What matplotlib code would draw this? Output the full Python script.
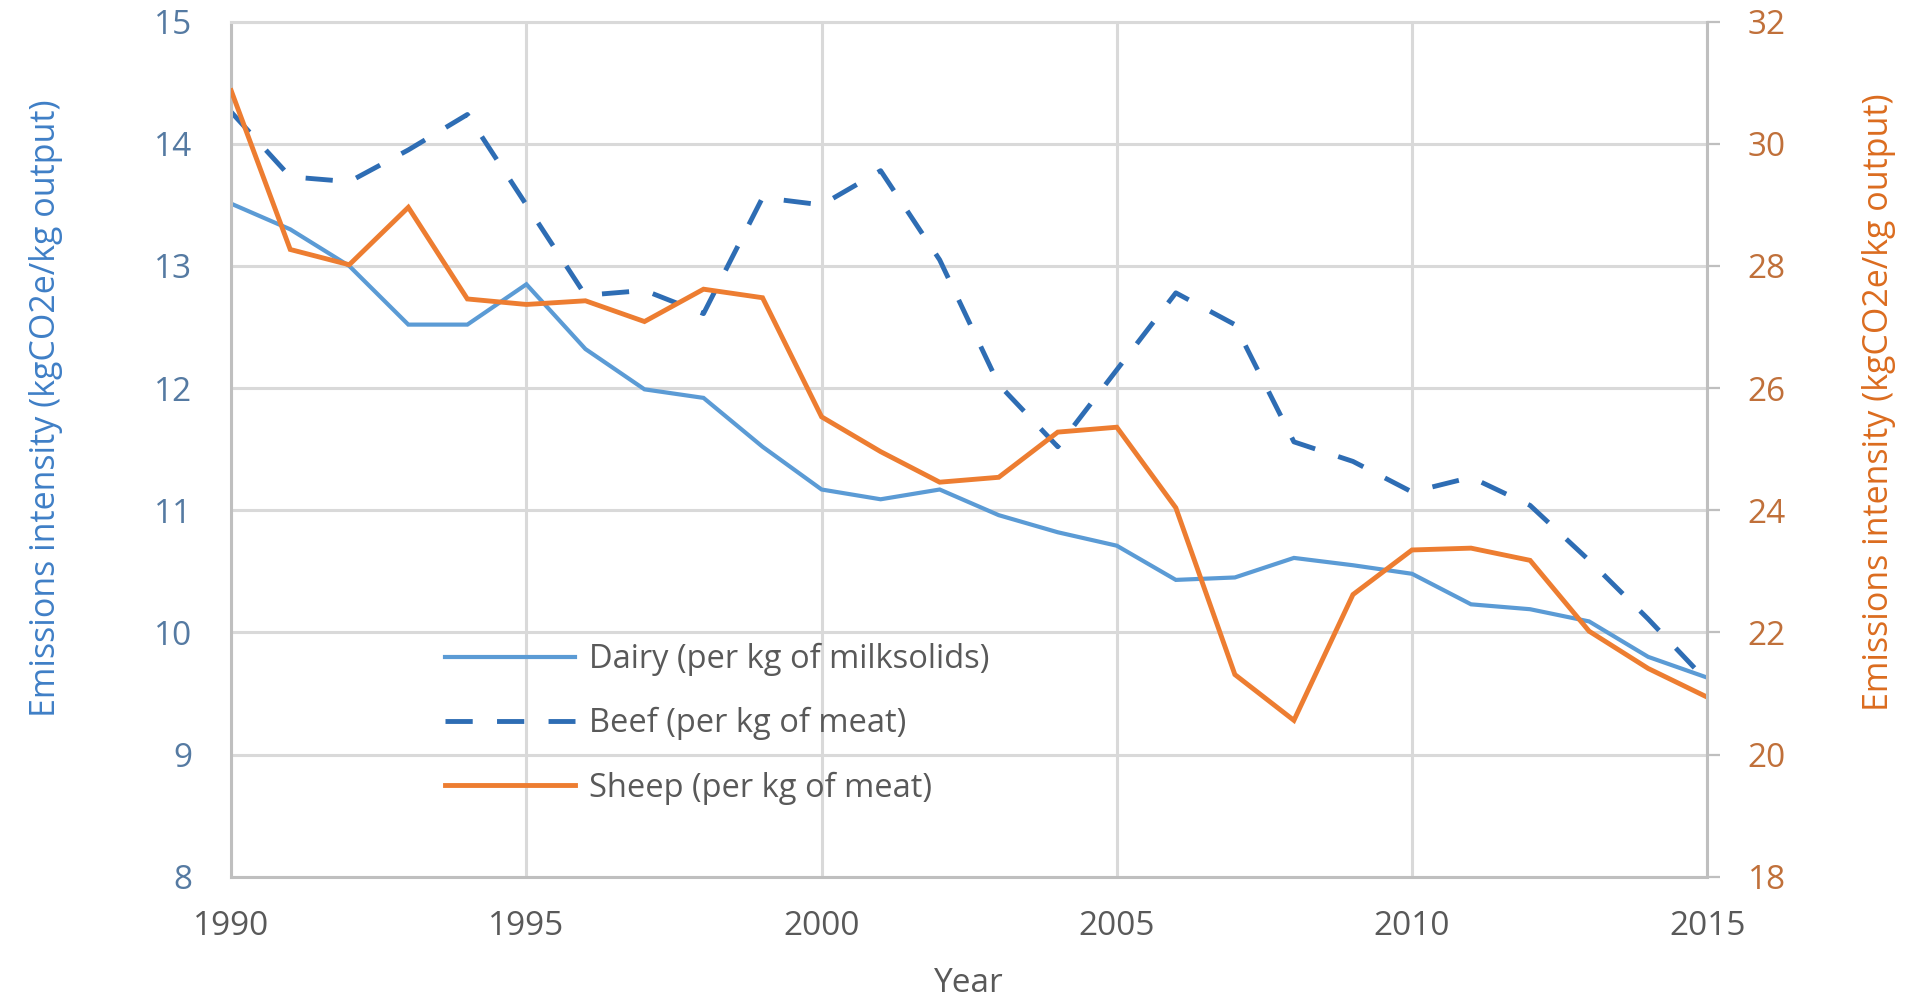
import matplotlib
matplotlib.use("Agg")
import matplotlib.pyplot as plt
from matplotlib.lines import Line2D

# Emissions intensity by sector, 1990-2015
years = list(range(1990, 2016))
dairy = [13.51, 13.30, 13.00, 12.52, 12.52, 12.85, 12.32, 11.99, 11.92, 11.52,
         11.17, 11.09, 11.17, 10.96, 10.82, 10.71, 10.43, 10.45, 10.61, 10.55,
         10.48, 10.23, 10.19, 10.09, 9.80, 9.63]
beef = [14.26, 13.73, 13.69, 13.95, 14.24, 13.50, 12.76, 12.80, 12.61, 13.56,
        13.50, 13.78, 13.05, 12.03, 11.52, 12.15, 12.78, 12.52, 11.56, 11.40,
        11.15, 11.27, 11.04, 10.59, 10.11, 9.60]
sheep = [30.87, 28.27, 28.02, 28.96, 27.46, 27.37, 27.43, 27.09, 27.62, 27.48,
         25.53, 24.96, 24.46, 24.54, 25.28, 25.36, 24.04, 21.31, 20.56, 22.62,
         23.35, 23.38, 23.18, 22.02, 21.41, 20.94]

series_labels = ["Dairy (per kg of milksolids)",
                 "Beef (per kg of meat)",
                 "Sheep (per kg of meat)"]
x_ticks = [1990, 1995, 2000, 2005, 2010, 2015]
left_ticks = [8, 9, 10, 11, 12, 13, 14, 15]
right_ticks = [18, 20, 22, 24, 26, 28, 30, 32]
y_label = "Emissions intensity (kgCO2e/kg output)"
x_label = "Year"

C_DAIRY = "#5B9BD5"
C_BEEF = "#2E6DB4"
C_SHEEP = "#ED7D31"
GRID = "#D9D9D9"
SPINE = "#BFBFBF"
GREY_TXT = "#595959"

plt.rcParams['font.family'] = ['Open Sans', 'DejaVu Sans']

fig = plt.figure(figsize=(19.06, 9.99), dpi=100)
ax = fig.add_axes([0.1213, 0.1224, 0.7744, 0.8559])
ax2 = ax.twinx()

ax.set_xlim(1990, 2015)
ax.set_ylim(8, 15)
ax2.set_ylim(18, 32)

ax.set_xticks(x_ticks)
ax.set_yticks(left_ticks)
ax2.set_yticks(right_ticks)

ax.grid(True, color=GRID, linewidth=2.2)
ax.set_axisbelow(True)

for side in ("left", "bottom"):
    ax.spines[side].set_color(SPINE)
    ax.spines[side].set_linewidth(2.2)
ax.spines["top"].set_color(GRID)
ax.spines["top"].set_linewidth(2.2)
ax.spines["right"].set_visible(False)
for side in ("left", "bottom", "top"):
    ax2.spines[side].set_visible(False)
ax2.spines["right"].set_color(SPINE)
ax2.spines["right"].set_linewidth(2.2)

ax.tick_params(axis="y", length=0, pad=28, labelsize=24, labelcolor="#557AA2")
ax.tick_params(axis="x", length=0, pad=24, labelsize=24, labelcolor=GREY_TXT)
ax2.tick_params(axis="y", length=9, width=1.6, color=SPINE, pad=20,
                labelsize=24, labelcolor="#C0703A")

BEEF_DASH = (0, (5.6, 5.0))
ax.plot(years, dairy, color=C_DAIRY, linewidth=3.0, solid_joinstyle="miter")
ax.plot(years, beef, color=C_BEEF, linewidth=3.5, linestyle=BEEF_DASH)
ax2.plot(years, sheep, color=C_SHEEP, linewidth=3.5, solid_joinstyle="miter")

ax.set_ylabel(y_label, fontsize=24.5, color="#3F7FC6")
ax.yaxis.set_label_coords(-0.114, 0.548)
ax2.set_ylabel(y_label, fontsize=24.5, color="#DB6C1F", rotation=90)
ax2.yaxis.set_label_coords(1.105, 0.555)
ax.set_xlabel(x_label, fontsize=24, color=GREY_TXT)
ax.xaxis.set_label_coords(0.5, -0.105)

handles = [
    Line2D([], [], color=C_DAIRY, linewidth=3.0),
    Line2D([], [], color=C_BEEF, linewidth=3.5, linestyle=BEEF_DASH),
    Line2D([], [], color=C_SHEEP, linewidth=3.5),
]
leg = ax2.legend(handles, series_labels, loc="upper left",
                 bbox_to_anchor=(0.1448, 0.2735), bbox_transform=ax.transAxes,
                 frameon=False, fontsize=23.5, borderpad=0, borderaxespad=0,
                 handlelength=4.0, handletextpad=0.4, labelspacing=0.95)
for t in leg.get_texts():
    t.set_color(GREY_TXT)

fig.savefig("out.png", dpi=100, facecolor="white")
